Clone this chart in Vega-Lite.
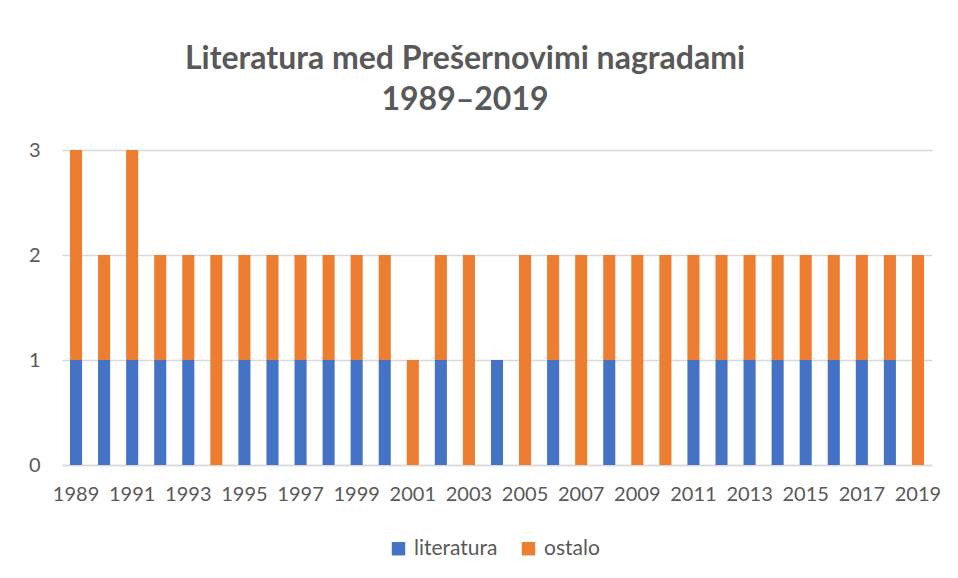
{
  "$schema": "https://vega.github.io/schema/vega-lite/v6.json",
  "width": 870,
  "height": 315,
  "autosize": {"type": "none"},
  "padding": {"left": 62, "top": 150, "right": 26, "bottom": 113},
  "background": "white",
  "title": {
    "text": ["Literatura med Prešernovimi nagradami", "1989–2019"],
    "font": "Lato",
    "fontSize": 32,
    "fontWeight": "bold",
    "color": "#595959",
    "anchor": "middle",
    "dx": -32,
    "offset": 23,
    "lineHeight": 41
  },
  "data": {
    "values": [
      {"leto": 1989, "vrsta": "literatura", "stevilo": 1}, {"leto": 1989, "vrsta": "ostalo", "stevilo": 2},
      {"leto": 1990, "vrsta": "literatura", "stevilo": 1}, {"leto": 1990, "vrsta": "ostalo", "stevilo": 1},
      {"leto": 1991, "vrsta": "literatura", "stevilo": 1}, {"leto": 1991, "vrsta": "ostalo", "stevilo": 2},
      {"leto": 1992, "vrsta": "literatura", "stevilo": 1}, {"leto": 1992, "vrsta": "ostalo", "stevilo": 1},
      {"leto": 1993, "vrsta": "literatura", "stevilo": 1}, {"leto": 1993, "vrsta": "ostalo", "stevilo": 1},
      {"leto": 1994, "vrsta": "literatura", "stevilo": 0}, {"leto": 1994, "vrsta": "ostalo", "stevilo": 2},
      {"leto": 1995, "vrsta": "literatura", "stevilo": 1}, {"leto": 1995, "vrsta": "ostalo", "stevilo": 1},
      {"leto": 1996, "vrsta": "literatura", "stevilo": 1}, {"leto": 1996, "vrsta": "ostalo", "stevilo": 1},
      {"leto": 1997, "vrsta": "literatura", "stevilo": 1}, {"leto": 1997, "vrsta": "ostalo", "stevilo": 1},
      {"leto": 1998, "vrsta": "literatura", "stevilo": 1}, {"leto": 1998, "vrsta": "ostalo", "stevilo": 1},
      {"leto": 1999, "vrsta": "literatura", "stevilo": 1}, {"leto": 1999, "vrsta": "ostalo", "stevilo": 1},
      {"leto": 2000, "vrsta": "literatura", "stevilo": 1}, {"leto": 2000, "vrsta": "ostalo", "stevilo": 1},
      {"leto": 2001, "vrsta": "literatura", "stevilo": 0}, {"leto": 2001, "vrsta": "ostalo", "stevilo": 1},
      {"leto": 2002, "vrsta": "literatura", "stevilo": 1}, {"leto": 2002, "vrsta": "ostalo", "stevilo": 1},
      {"leto": 2003, "vrsta": "literatura", "stevilo": 0}, {"leto": 2003, "vrsta": "ostalo", "stevilo": 2},
      {"leto": 2004, "vrsta": "literatura", "stevilo": 1}, {"leto": 2004, "vrsta": "ostalo", "stevilo": 0},
      {"leto": 2005, "vrsta": "literatura", "stevilo": 0}, {"leto": 2005, "vrsta": "ostalo", "stevilo": 2},
      {"leto": 2006, "vrsta": "literatura", "stevilo": 1}, {"leto": 2006, "vrsta": "ostalo", "stevilo": 1},
      {"leto": 2007, "vrsta": "literatura", "stevilo": 0}, {"leto": 2007, "vrsta": "ostalo", "stevilo": 2},
      {"leto": 2008, "vrsta": "literatura", "stevilo": 1}, {"leto": 2008, "vrsta": "ostalo", "stevilo": 1},
      {"leto": 2009, "vrsta": "literatura", "stevilo": 0}, {"leto": 2009, "vrsta": "ostalo", "stevilo": 2},
      {"leto": 2010, "vrsta": "literatura", "stevilo": 0}, {"leto": 2010, "vrsta": "ostalo", "stevilo": 2},
      {"leto": 2011, "vrsta": "literatura", "stevilo": 1}, {"leto": 2011, "vrsta": "ostalo", "stevilo": 1},
      {"leto": 2012, "vrsta": "literatura", "stevilo": 1}, {"leto": 2012, "vrsta": "ostalo", "stevilo": 1},
      {"leto": 2013, "vrsta": "literatura", "stevilo": 1}, {"leto": 2013, "vrsta": "ostalo", "stevilo": 1},
      {"leto": 2014, "vrsta": "literatura", "stevilo": 1}, {"leto": 2014, "vrsta": "ostalo", "stevilo": 1},
      {"leto": 2015, "vrsta": "literatura", "stevilo": 1}, {"leto": 2015, "vrsta": "ostalo", "stevilo": 1},
      {"leto": 2016, "vrsta": "literatura", "stevilo": 1}, {"leto": 2016, "vrsta": "ostalo", "stevilo": 1},
      {"leto": 2017, "vrsta": "literatura", "stevilo": 1}, {"leto": 2017, "vrsta": "ostalo", "stevilo": 1},
      {"leto": 2018, "vrsta": "literatura", "stevilo": 1}, {"leto": 2018, "vrsta": "ostalo", "stevilo": 1},
      {"leto": 2019, "vrsta": "literatura", "stevilo": 0}, {"leto": 2019, "vrsta": "ostalo", "stevilo": 2}
    ]
  },
  "mark": {"type": "bar"},
  "encoding": {
    "x": {
      "field": "leto",
      "type": "ordinal",
      "scale": {"paddingInner": 0.57, "paddingOuter": 0.285},
      "axis": {
        "title": null,
        "values": [1989,1991,1993,1995,1997,1999,2001,2003,2005,2007,2009,2011,2013,2015,2017,2019],
        "labelAngle": 0,
        "ticks": false,
        "domainColor": "#D9D9D9",
        "domainWidth": 1.5,
        "labelPadding": 19,
        "labelFont": "Lato",
        "labelFontSize": 20,
        "labelColor": "#595959"
      }
    },
    "y": {
      "field": "stevilo",
      "type": "quantitative",
      "stack": "zero",
      "scale": {"domain": [0, 3], "nice": false},
      "axis": {
        "title": null,
        "values": [0, 1, 2, 3],
        "domain": false,
        "ticks": false,
        "gridColor": "#D9D9D9",
        "gridWidth": 1.5,
        "labelPadding": 22,
        "labelFont": "Lato",
        "labelFontSize": 20,
        "labelColor": "#595959",
        "format": "d"
      }
    },
    "color": {
      "field": "vrsta",
      "type": "nominal",
      "scale": {"domain": ["literatura", "ostalo"], "range": ["#4472C4", "#ED7D31"]},
      "legend": {
        "title": null,
        "orient": "none",
        "legendX": 326,
        "legendY": 388,
        "direction": "horizontal",
        "symbolType": "square",
        "symbolSize": 180,
        "symbolStrokeWidth": 0,
        "symbolOffset": 0,
        "labelOffset": 5,
        "labelFont": "Lato",
        "labelFontSize": 21,
        "labelColor": "#595959",
        "columnPadding": 20
      }
    },
    "order": {"field": "vrsta", "sort": "ascending"}
  },
  "config": {
    "view": {"stroke": null}
  }
}
